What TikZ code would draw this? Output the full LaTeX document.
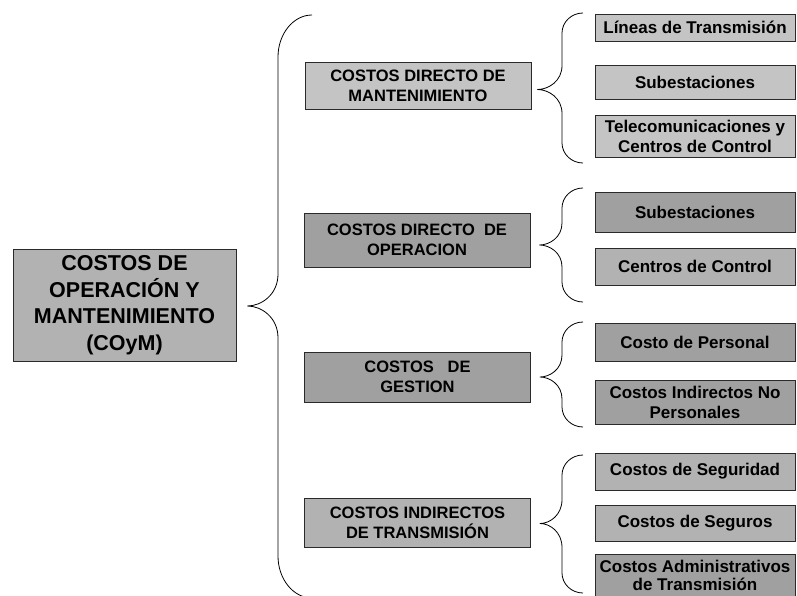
\documentclass[tikz,border=0pt]{standalone}
\usepackage{fontspec}
\setmainfont{Liberation Sans}
\usetikzlibrary{calc}

\definecolor{boxlight}{HTML}{C4C4C4}
\definecolor{boxmid}{HTML}{B2B2B2}
\definecolor{boxdark}{HTML}{A0A0A0}
\definecolor{edgeline}{HTML}{2A2A2A}

\tikzset{
  box/.style={draw=edgeline, line width=0.9pt, inner sep=0pt, align=center, text=black},
  rootbox/.style={box, minimum width=223, minimum height=112,
    font=\bfseries\fontsize{21.5}{26.5}\selectfont},
  groupbox/.style={box, minimum width=226,
    font=\bfseries\fontsize{16.5}{20}\selectfont},
  itembox/.style={box, minimum width=200,
    font=\bfseries\fontsize{17}{20}\selectfont},
  bracestyle/.style={draw=black, line width=0.8pt, line join=round},
}

% curly brace: #1 tip, #2 upper end, #3 lower end,
% #4 horizontal depth of the ends, #5 end radius, #6 tip radius
\newcommand{\drawcurly}[6]{%
  \draw[bracestyle] let \p1=(#1), \p2=(#2), \p3=(#3) in
    (\p2) .. controls (\x2-0.55*#4, \y2) and (\x2-#4, \y2-0.45*#5) .. (\x2-#4, \y2-#5)
    -- (\x2-#4, \y1+#6)
    .. controls (\x2-#4, \y1+0.35*#6) and (\x1+0.45*\x2-0.45*#4-0.45*\x1, \y1) .. (\p1)
    .. controls (\x1+0.45*\x2-0.45*#4-0.45*\x1, \y1) and (\x2-#4, \y1-0.35*#6) .. (\x2-#4, \y1-#6)
    -- (\x3-#4, \y3+#5)
    .. controls (\x3-#4, \y3+0.45*#5) and (\x3-0.55*#4, \y3) .. (\p3);
}

\begin{document}
\begin{tikzpicture}[x=1pt, y=-1pt]
  \useasboundingbox (0,0) rectangle (797,596);
  \fill[white] (0,0) rectangle (797,596);
  \clip (0,0) rectangle (797,596);

  % root
  \node[rootbox, fill=boxmid] (root) at (124.5,305)
    {COSTOS DE\\OPERACIÓN Y\\MANTENIMIENTO\\(COyM)};

  % cost groups
  \node[groupbox, fill=boxlight, minimum height=47] (g1) at (418,85.5)
    {COSTOS DIRECTO DE\\MANTENIMIENTO};
  \node[groupbox, fill=boxdark, minimum height=54] (g2) at (417,240)
    {COSTOS DIRECTO\ \ DE\\OPERACION};
  \node[groupbox, fill=boxdark, minimum height=50] (g3) at (417.5,377)
    {COSTOS\ \ \ DE\\GESTION};
  \node[groupbox, fill=boxmid, minimum height=49] (g4) at (417.5,522.5)
    {COSTOS INDIRECTOS\\DE TRANSMISIÓN};

  % items
  \node[itembox, fill=boxlight, minimum height=27] (i11) at (695,27.5) {Líneas de Transmisión};
  \node[itembox, fill=boxlight, minimum height=34] (i12) at (695,82) {Subestaciones};
  \node[itembox, fill=boxlight, minimum height=42] (i13) at (695,136) {Telecomunicaciones y\\Centros de Control};

  \node[itembox, fill=boxdark, minimum height=40] (i21) at (695,212.5) {Subestaciones};
  \node[itembox, fill=boxmid, minimum height=37] (i22) at (695,266.5) {Centros de Control};

  \node[itembox, fill=boxdark, minimum height=38] (i31) at (695,342) {Costo de Personal};
  \node[itembox, fill=boxdark, minimum height=44] (i32) at (695,402) {Costos Indirectos No\\Personales};

  \node[itembox, fill=boxmid, minimum height=37] (i41) at (695,471.5) {Costos de Seguridad};
  \node[itembox, fill=boxmid, minimum height=36] (i42) at (695,523) {Costos de Seguros};
  \node[itembox, fill=boxdark, minimum height=42,
        font=\bfseries\fontsize{17}{18.5}\selectfont] (i43) at (695,575.5)
    {Costos Administrativos\\de Transmisión};

  % brace anchors
  \coordinate (rtip) at ($(root.east)+(11,1)$);
  \coordinate (rtop) at (312,15);
  \coordinate (rbot) at (312,598);

  \coordinate (t1) at ($(g1.east)+(6,4)$);
  \coordinate (a1) at (583,13);
  \coordinate (z1) at (583,163);

  \coordinate (t2) at ($(g2.east)+(9,5)$);
  \coordinate (a2) at (583,188);
  \coordinate (z2) at (583,302);

  \coordinate (t3) at ($(g3.east)+(9,0)$);
  \coordinate (a3) at (583,322);
  \coordinate (z3) at (583,427);

  \coordinate (t4) at ($(g4.east)+(9,1)$);
  \coordinate (a4) at (583,455);
  \coordinate (z4) at (583,593);

  % braces
  \drawcurly{rtip}{rtop}{rbot}{34pt}{42pt}{32pt}
  \drawcurly{t1}{a1}{z1}{21pt}{20pt}{24pt}
  \drawcurly{t2}{a2}{z2}{21pt}{20pt}{22pt}
  \drawcurly{t3}{a3}{z3}{21pt}{20pt}{22pt}
  \drawcurly{t4}{a4}{z4}{21pt}{20pt}{24pt}
\end{tikzpicture}
\end{document}
